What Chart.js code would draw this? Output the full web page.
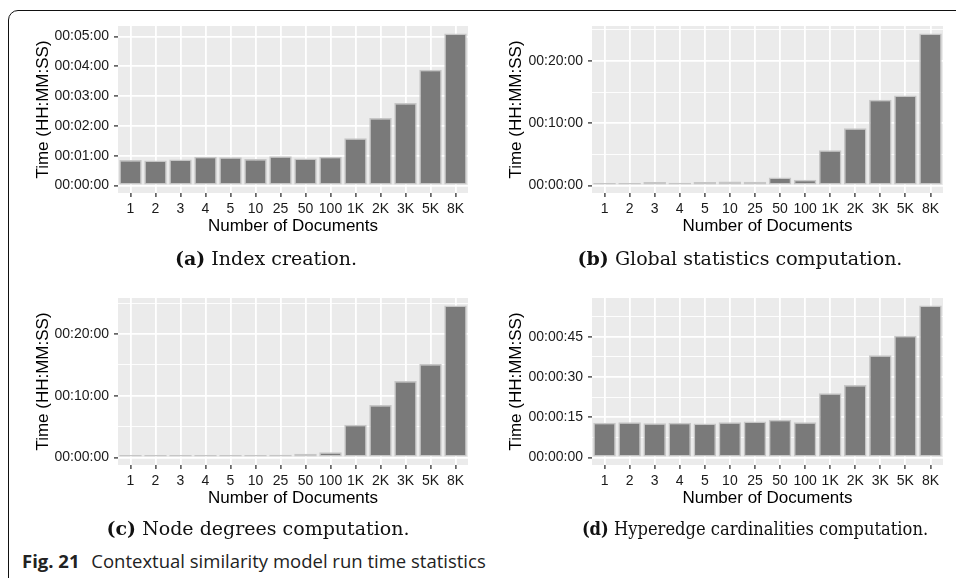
<!DOCTYPE html>
<html>
<head>
<meta charset="utf-8">
<script src="https://cdn.jsdelivr.net/npm/chart.js@4.4.0/dist/chart.umd.min.js"></script>
<style>
  html, body { margin: 0; padding: 0; background: #fff; }
  body { width: 956px; height: 578px; position: relative; overflow: hidden; }
  .frame { position: absolute; left: 8px; top: 10px; width: 1000px; height: 580px;
           border: 1.2px solid #111; border-radius: 10px; box-sizing: border-box; }
  canvas { position: absolute; }
  .sub { position: absolute; transform: translate(-50%, -50%); white-space: nowrap;
         font-family: "DejaVu Serif", serif; font-size: 19px; color: #111; }
  .sub b { font-weight: bold; }
  .cap { position: absolute; left: 22px; top: 548px; white-space: nowrap;
         font-family: "Open Sans", sans-serif; font-size: 18.5px; color: #222; }
  .cap b { font-weight: 700; margin-right: 7px; }
</style>
</head>
<body>
<div class="frame"></div>
<canvas id="chartA" width="480" height="250" style="left:0;top:0"></canvas>
<canvas id="chartB" width="478" height="250" style="left:478px;top:0"></canvas>
<canvas id="chartC" width="480" height="250" style="left:0;top:272px"></canvas>
<canvas id="chartD" width="478" height="250" style="left:478px;top:272px"></canvas>
<div class="sub" style="left:266px;top:258px"><b>(a)</b> Index creation.</div>
<div class="sub" style="left:740px;top:258px"><b>(b)</b> Global statistics computation.</div>
<div class="sub" style="left:258px;top:528px"><b>(c)</b> Node degrees computation.</div>
<div class="sub" style="left:755px;top:528px;transform:translate(-50%,-50%) scaleX(0.86)"><b>(d)</b> Hyperedge cardinalities computation.</div>
<div class="cap"><b>Fig. 21</b> Contextual similarity model run time statistics</div>
<script>
// number of documents (x categories)
var docCounts = ['1', '2', '3', '4', '5', '10', '25', '50', '100', '1K', '2K', '3K', '5K', '8K'];

// run times in seconds
var indexCreation = [51, 50, 52, 58, 57, 53, 59, 54, 58, 95, 136, 166, 233, 306];
var globalStats = [14, 22, 32, 26, 32, 38, 36, 77, 55, 340, 550, 825, 867, 1464];
var nodeDegrees = [10, 10, 10, 10, 10, 11, 26, 35, 49, 318, 509, 742, 907, 1476];
var hyperedgeCard = [12.9, 13.1, 12.7, 12.9, 12.6, 13.1, 13.4, 14.0, 13.1, 23.9, 27.0, 38.1, 45.4, 56.6];

// y tick steps (major labelled, minor halfway)
var stepsA = [60, 30];
var stepsB = [600, 300];
var stepsC = [600, 300];
var stepsD = [15, 7.5];

function hms(sec) {
    var h = Math.floor(sec / 3600);
    var m = Math.floor((sec % 3600) / 60);
    var s = Math.round(sec % 60);
    var p = n => String(n).padStart(2, '0');
    return p(h) + ':' + p(m) + ':' + p(s);
}

const panelBg = {
    id: 'panelBg',
    beforeDraw(chart) {
        const a = chart.chartArea;
        const ctx = chart.ctx;
        ctx.save();
        ctx.fillStyle = '#ebebeb';
        ctx.fillRect(a.left, a.top, a.right - a.left, a.bottom - a.top);
        ctx.restore();
    }
};

function makeChart(id, values, steps, yWidth, padRight, yTitlePad) {
    var maxV = Math.max(...values);
    var major = steps[0], minor = steps[1];
    var isMajor = v => Math.abs(v / major - Math.round(v / major)) < 1e-6;

    return new Chart(document.getElementById(id).getContext('2d'), {
        type: 'bar',
        data: {
            labels: docCounts,
            datasets: [{
                data: values,
                backgroundColor: '#7a7a7a',
                borderColor: '#c6c6c6',
                borderWidth: 1.5,
                borderSkipped: false,
                minBarLength: 2.5,
                barPercentage: 0.9,
                categoryPercentage: 1.0
            }]
        },
        options: {
            responsive: false,
            animation: false,
            layout: { padding: { left: 0, right: padRight, top: 26, bottom: 0 } },
            plugins: { legend: { display: false }, tooltip: { enabled: false } },
            scales: {
                x: {
                    offset: true,
                    border: { display: false },
                    grid: { offset: false, color: '#ffffff', lineWidth: 1.8,
                            tickColor: '#333333', tickLength: 4, tickWidth: 1.3 },
                    ticks: { color: '#1a1a1a', autoSkip: false, maxRotation: 0, padding: 4,
                             font: { family: 'Liberation Sans', size: 14 } },
                    title: { display: true, text: 'Number of Documents', color: '#000',
                             font: { family: 'Liberation Sans', size: 17 },
                             padding: { top: 0, bottom: 13 } },
                    afterFit: axis => { axis.height = 57; }
                },
                y: {
                    min: -0.05 * maxV,
                    max: 1.05 * maxV,
                    border: { display: false },
                    afterBuildTicks: axis => {
                        var t = [];
                        for (var v = 0; v <= 1.05 * maxV; v += minor) t.push({ value: v });
                        axis.ticks = t;
                    },
                    grid: {
                        color: '#ffffff',
                        lineWidth: c => isMajor(c.tick.value) ? 1.8 : 0.9,
                        tickColor: c => isMajor(c.tick.value) ? '#333333' : 'rgba(0,0,0,0)',
                        tickLength: 4,
                        tickWidth: 1.3
                    },
                    ticks: { color: '#1a1a1a', padding: 5,
                             font: { family: 'Liberation Sans', size: 14 },
                             callback: v => isMajor(v) ? hms(v) : '' },
                    title: { display: true, text: 'Time (HH:MM:SS)', color: '#000',
                             font: { family: 'Liberation Sans', size: 17 },
                             padding: { top: yTitlePad, bottom: 0 } },
                    afterFit: axis => { axis.width = yWidth; }
                }
            }
        },
        plugins: [panelBg]
    });
}

makeChart('chartA', indexCreation, stepsA, 118, 12, 33);
makeChart('chartB', globalStats, stepsB, 114, 13, 28);
makeChart('chartC', nodeDegrees, stepsC, 118, 12, 33);
makeChart('chartD', hyperedgeCard, stepsD, 114, 13, 28);
</script>
</body>
</html>
